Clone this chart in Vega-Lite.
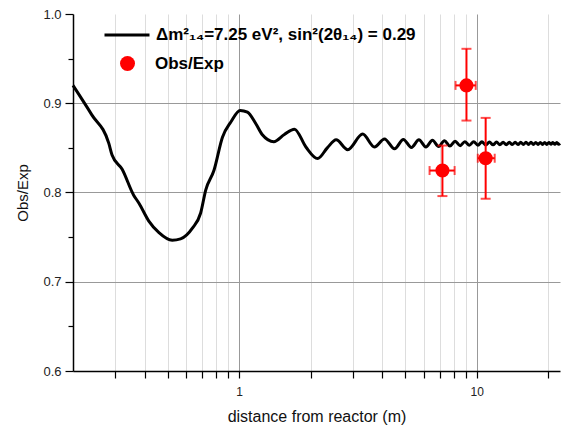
{
  "$schema": "https://vega.github.io/schema/vega-lite/v6.json",
  "width": 487,
  "height": 357,
  "autosize": {"type": "none"},
  "padding": {"left": 73, "top": 14, "right": 7, "bottom": 58},
  "background": "white",
  "config": {
    "view": {"stroke": null},
    "font": "Liberation Sans"
  },
  "datasets": {
    "curve": [
      {"L": 0.2, "y": 0.920}, {"L": 0.24, "y": 0.887}, {"L": 0.283, "y": 0.855}, {"L": 0.292, "y": 0.842},
      {"L": 0.322, "y": 0.826}, {"L": 0.36, "y": 0.797}, {"L": 0.379, "y": 0.788}, {"L": 0.417, "y": 0.768},
      {"L": 0.46, "y": 0.755}, {"L": 0.523, "y": 0.7465}, {"L": 0.567, "y": 0.748}, {"L": 0.636, "y": 0.760},
      {"L": 0.689, "y": 0.777}, {"L": 0.724, "y": 0.803}, {"L": 0.784, "y": 0.825}, {"L": 0.851, "y": 0.862},
      {"L": 0.923, "y": 0.879}, {"L": 1.01, "y": 0.892}, {"L": 1.084, "y": 0.890}, {"L": 1.176, "y": 0.877},
      {"L": 1.25, "y": 0.865}, {"L": 1.40, "y": 0.857}, {"L": 1.55, "y": 0.865}, {"L": 1.71, "y": 0.871},
      {"L": 1.91, "y": 0.851}, {"L": 2.14, "y": 0.838}, {"L": 2.35, "y": 0.850}, {"L": 2.56, "y": 0.859},
      {"L": 2.865, "y": 0.848}, {"L": 3.31, "y": 0.8655}, {"L": 3.71, "y": 0.851}, {"L": 4.09, "y": 0.860},
      {"L": 4.51, "y": 0.849}, {"L": 4.91, "y": 0.8595}, {"L": 5.31, "y": 0.8505}, {"L": 5.71, "y": 0.859},
      {"L": 6.11, "y": 0.851}, {"L": 6.51, "y": 0.8585}, {"L": 6.91, "y": 0.8515}, {"L": 7.31, "y": 0.858},
      {"L": 7.71, "y": 0.852}, {"L": 8.11, "y": 0.8575}, {"L": 8.51, "y": 0.8525}, {"L": 8.91, "y": 0.857},
      {"L": 9.31, "y": 0.853}, {"L": 9.71, "y": 0.857}, {"L": 10.11, "y": 0.853}, {"L": 10.51, "y": 0.8568},
      {"L": 10.91, "y": 0.8532}, {"L": 11.31, "y": 0.8566}, {"L": 11.71, "y": 0.8534}, {"L": 12.11, "y": 0.8565},
      {"L": 12.51, "y": 0.8535}, {"L": 12.91, "y": 0.8564}, {"L": 13.31, "y": 0.8536}, {"L": 13.71, "y": 0.8563},
      {"L": 14.11, "y": 0.8537}, {"L": 14.51, "y": 0.8563}, {"L": 14.91, "y": 0.8537}, {"L": 15.31, "y": 0.8562},
      {"L": 15.71, "y": 0.8538}, {"L": 16.11, "y": 0.8562}, {"L": 16.51, "y": 0.8538}, {"L": 16.91, "y": 0.8562},
      {"L": 17.31, "y": 0.8538}, {"L": 17.71, "y": 0.8561}, {"L": 18.11, "y": 0.8539}, {"L": 18.51, "y": 0.8561},
      {"L": 18.91, "y": 0.8539}, {"L": 19.31, "y": 0.8561}, {"L": 19.71, "y": 0.8539}, {"L": 20.11, "y": 0.856},
      {"L": 20.51, "y": 0.854}, {"L": 20.91, "y": 0.856}, {"L": 21.31, "y": 0.854}, {"L": 21.71, "y": 0.856},
      {"L": 22.11, "y": 0.854}, {"L": 22.4, "y": 0.855}
    ],
    "obs": [
      {"L": 7.17, "y": 0.8246, "ylo": 0.796, "yhi": 0.8526, "xlo": 6.33, "xhi": 8.07},
      {"L": 9.05, "y": 0.920, "ylo": 0.8806, "yhi": 0.961, "xlo": 8.14, "xhi": 9.9},
      {"L": 10.9, "y": 0.8384, "ylo": 0.793, "yhi": 0.8836, "xlo": 10.1, "xhi": 11.9}
    ]
  },
  "layer": [
    {
      "data": {"name": "curve"},
      "mark": {"type": "line", "color": "black", "strokeWidth": 3, "interpolate": "monotone"},
      "encoding": {
        "x": {
          "field": "L", "type": "quantitative", "title": "distance from reactor (m)",
          "scale": {"type": "log", "domain": [0.2, 22.4], "nice": false},
          "axis": {
            "values": [0.3, 0.4, 0.5, 0.6, 0.7, 0.8, 0.9, 1, 2, 3, 4, 5, 6, 7, 8, 9, 10, 20],
            "format": "d",
            "labelExpr": "datum.value == 1 || datum.value == 10 ? datum.label : ''",
            "labelOverlap": false,
            "grid": true,
            "gridColor": {"condition": {"test": "datum.value == 1 || datum.value == 10", "value": "#999999"}, "value": "#dddddd"},
            "gridWidth": 1,
            "tickSize": 7,
            "tickColor": "black",
            "tickWidth": 1.2,
            "domainColor": "black",
            "domainWidth": 1.5,
            "labelFontSize": 12,
            "labelColor": "#222222",
            "labelPadding": 8,
            "titleFontSize": 16,
            "titleFontWeight": "normal",
            "titleColor": "#111111",
            "titlePadding": 11
          }
        },
        "y": {
          "field": "y", "type": "quantitative", "title": "Obs/Exp",
          "scale": {"domain": [0.6, 1.0], "nice": false, "zero": false},
          "axis": {
            "values": [0.6, 0.65, 0.7, 0.75, 0.8, 0.85, 0.9, 0.95, 1.0],
            "labelExpr": "round(datum.value * 100) % 10 == 0 ? format(datum.value, '.1f') : ''",
            "labelOverlap": false,
            "grid": true,
            "gridColor": "#999999",
            "gridOpacity": {"condition": {"test": "datum.value > 0.65 && datum.value < 0.95 && round(datum.value * 100) % 10 == 0", "value": 1}, "value": 0},
            "tickSize": {"condition": {"test": "round(datum.value * 100) % 10 != 0", "value": 5}, "value": 8},
            "tickColor": "black",
            "tickWidth": 1.2,
            "domainColor": "black",
            "domainWidth": 1.5,
            "labelFontSize": 13,
            "labelColor": "#222222",
            "labelPadding": 4,
            "titleFontSize": 15,
            "titleFontWeight": "normal",
            "titleColor": "#111111",
            "titlePadding": 12
          }
        },
        "color": {
          "datum": "Δm²₁₄=7.25 eV², sin²(2θ₁₄) = 0.29",
          "type": "nominal",
          "scale": {"range": ["black"]},
          "legend": {
            "orient": "none", "legendX": 30, "legendY": -3, "title": null, "padding": 0,
            "symbolType": "stroke", "symbolSize": 2025, "symbolStrokeWidth": 3,
            "labelFontSize": 17, "labelFontWeight": "bold", "labelColor": "black", "labelOffset": 5, "labelLimit": 500
          }
        }
      }
    },
    {
      "data": {"name": "obs"},
      "mark": {"type": "errorbar", "color": "red", "thickness": 2, "ticks": {"size": 10, "thickness": 2, "color": "red"}},
      "encoding": {
        "x": {"field": "L", "type": "quantitative", "title": "distance from reactor (m)", "scale": {"type": "log", "domain": [0.2, 22.4], "nice": false}},
        "y": {"field": "ylo", "type": "quantitative", "title": "Obs/Exp"},
        "y2": {"field": "yhi"}
      }
    },
    {
      "data": {"name": "obs"},
      "mark": {"type": "errorbar", "color": "red", "thickness": 2, "ticks": {"size": 9, "thickness": 2, "color": "red"}},
      "encoding": {
        "x": {"field": "xlo", "type": "quantitative", "title": "distance from reactor (m)", "scale": {"type": "log", "domain": [0.2, 22.4], "nice": false}},
        "x2": {"field": "xhi"},
        "y": {"field": "y", "type": "quantitative", "title": "Obs/Exp"}
      }
    },
    {
      "data": {"name": "obs"},
      "mark": {"type": "point", "filled": true, "color": "red", "opacity": 1, "size": 200},
      "encoding": {
        "x": {"field": "L", "type": "quantitative", "title": "distance from reactor (m)", "scale": {"type": "log", "domain": [0.2, 22.4], "nice": false}},
        "y": {"field": "y", "type": "quantitative", "title": "Obs/Exp"},
        "shape": {
          "datum": "Obs/Exp",
          "type": "nominal",
          "scale": {"range": ["circle"]},
          "legend": {
            "orient": "none", "legendX": 46, "legendY": 41, "title": null, "padding": 0,
            "symbolSize": 225, "symbolFillColor": "red", "symbolStrokeColor": "red", "symbolOpacity": 1,
            "labelFontSize": 17, "labelFontWeight": "bold", "labelColor": "black", "labelOffset": 19
          }
        }
      }
    }
  ]
}
